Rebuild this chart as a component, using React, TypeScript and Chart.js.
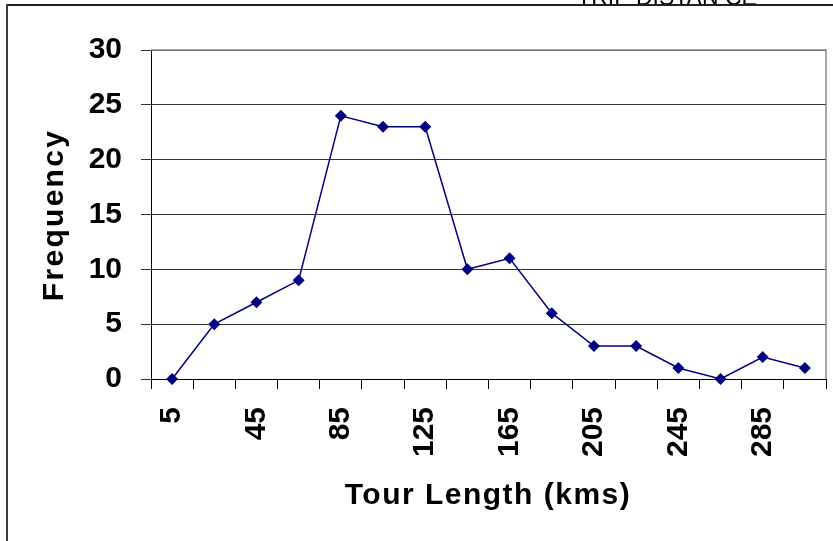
import React, { useEffect, useRef } from "react";
import { Chart, registerables } from "chart.js";

Chart.register(...registerables);

const categories = ["5", "25", "45", "65", "85", "105", "125", "145", "165", "185", "205", "225", "245", "265", "285", "305"];
const frequency = [0, 5, 7, 9, 24, 23, 23, 10, 11, 6, 3, 3, 1, 0, 2, 1];
const yTicks = [0, 5, 10, 15, 20, 25, 30];
const xTitle = "Tour Length (kms)";
const yTitle = "Frequency";
const topText = "TRIP DISTAN CE";

const FONT = '"Liberation Sans", Arial, sans-serif';

const decorPlugin = {
  id: "decor",
  afterDraw(chart: any) {
    const ctx = chart.ctx as CanvasRenderingContext2D;
    const a = chart.chartArea;
    ctx.save();
    // plot area top/right gray border
    ctx.strokeStyle = "#8a8a8a";
    ctx.lineWidth = 1.5;
    ctx.beginPath();
    ctx.moveTo(a.left, a.top);
    ctx.lineTo(a.right, a.top);
    ctx.lineTo(a.right, a.bottom);
    ctx.stroke();

    // clipped heading text at top
    ctx.fillStyle = "#000";
    ctx.font = `23px ${FONT}`;
    ctx.textAlign = "center";
    ctx.textBaseline = "alphabetic";
    ctx.fillText(topText, 667, 5);

    // outer frame
    ctx.fillStyle = "#222";
    ctx.fillRect(6, 4, 833, 2);
    ctx.fillStyle = "#3a3a3a";
    ctx.fillRect(6, 4, 2, 541);

    // axis titles
    ctx.fillStyle = "#000";
    ctx.font = `bold 30px ${FONT}`;
    (ctx as any).letterSpacing = "1.5px";
    ctx.textAlign = "center";
    ctx.textBaseline = "alphabetic";
    ctx.fillText(xTitle, 488, 504);

    (ctx as any).letterSpacing = "2.3px";
    ctx.translate(63, 215);
    ctx.rotate(-Math.PI / 2);
    ctx.fillText(yTitle, 0, 0);
    ctx.restore();
  },
};

export default function App() {
  const ref = useRef<HTMLCanvasElement>(null);
  useEffect(() => {
    if (!ref.current) return;
    const chart = new Chart(ref.current, {
      type: "line",
      data: {
        labels: categories,
        datasets: [
          {
            data: frequency,
            borderColor: "#000080",
            backgroundColor: "#000080",
            borderWidth: 1.5,
            pointStyle: "rectRot",
            pointRadius: 6,
            pointBackgroundColor: "#000080",
            pointBorderColor: "#000080",
            pointBorderWidth: 0,
            tension: 0,
            clip: false as any,
          },
        ],
      },
      options: {
        responsive: false,
        animation: false,
        events: [],
        layout: { padding: { left: 0, top: 50, right: 7, bottom: 0 } },
        plugins: { legend: { display: false }, tooltip: { enabled: false }, title: { display: false } },
        scales: {
          x: {
            type: "category",
            offset: true,
            afterFit: (s: any) => {
              s.height = 162;
              s.paddingLeft = 0;
              s.paddingRight = 0;
            },
            grid: {
              offset: true,
              drawOnChartArea: false,
              drawTicks: true,
              tickLength: 10,
              color: "#000",
              lineWidth: 1,
            },
            border: { color: "#000", width: 1 },
            ticks: {
              autoSkip: false,
              minRotation: 90,
              maxRotation: 90,
              padding: 18,
              color: "#000",
              font: { family: FONT, size: 30, weight: "bold" },
              callback: (_v: any, i: number) => (i % 2 === 0 ? categories[i] : ""),
            },
          },
          y: {
            min: 0,
            max: 30,
            afterFit: (s: any) => {
              s.width = 151;
              s.paddingTop = 0;
              s.paddingBottom = 0;
            },
            afterBuildTicks: (s: any) => {
              s.ticks = yTicks.map((v) => ({ value: v }));
            },
            grid: {
              color: "#333",
              lineWidth: 1,
              drawTicks: true,
              tickLength: 10,
            },
            border: { color: "#000", width: 1 },
            ticks: {
              padding: 19,
              color: "#000",
              font: { family: FONT, size: 30, weight: "bold" },
            },
          },
        },
      },
      plugins: [decorPlugin],
    });
    return () => chart.destroy();
  }, []);
  return (
    <div style={{ position: "absolute", left: 0, top: 0, width: 833, height: 541, background: "#fff" }}>
      <canvas ref={ref} width={833} height={541} style={{ display: "block" }} />
    </div>
  );
}
